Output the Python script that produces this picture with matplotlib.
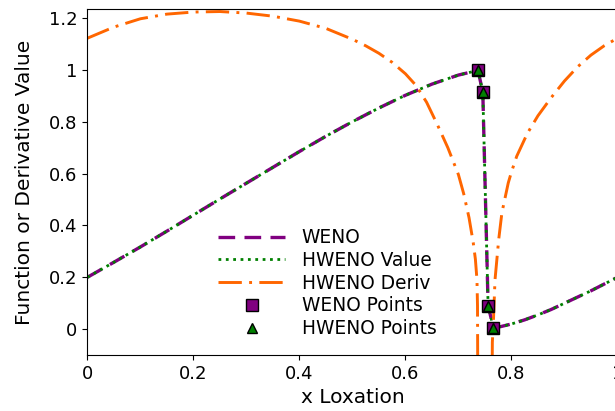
import numpy as np
import matplotlib
matplotlib.use("Agg")
import matplotlib.pyplot as plt
from matplotlib.ticker import FuncFormatter

# function values (WENO / HWENO reconstructions overlap)
x_func = [0.0, 0.05, 0.1, 0.15, 0.2, 0.25, 0.3, 0.35, 0.4, 0.45, 0.5, 0.55, 0.6, 0.65,
          0.7, 0.737, 0.746, 0.756, 0.766, 0.78, 0.8, 0.825, 0.85, 0.875, 0.9, 0.925,
          0.95, 0.975, 1.0]
weno_y = [0.200, 0.258, 0.317, 0.378, 0.440, 0.502, 0.563, 0.624, 0.685, 0.744, 0.800,
          0.853, 0.902, 0.945, 0.980, 0.998, 0.913, 0.090, 0.006, 0.010, 0.020, 0.036,
          0.055, 0.076, 0.100, 0.124, 0.148, 0.174, 0.200]
hweno_y = [0.200, 0.258, 0.317, 0.378, 0.440, 0.502, 0.563, 0.624, 0.685, 0.744, 0.800,
           0.853, 0.902, 0.945, 0.980, 0.998, 0.913, 0.090, 0.006, 0.010, 0.020, 0.036,
           0.055, 0.076, 0.100, 0.124, 0.148, 0.174, 0.200]

# derivative
x_deriv = [0.0, 0.05, 0.1, 0.15, 0.2, 0.25, 0.3, 0.35, 0.4, 0.45, 0.5, 0.525, 0.55,
           0.575, 0.6, 0.62, 0.64, 0.66, 0.68, 0.7, 0.71, 0.72, 0.728, 0.732, 0.735,
           0.736, 0.7365, 0.7635, 0.764, 0.766, 0.769, 0.776, 0.782, 0.794, 0.8, 0.81,
           0.83, 0.85, 0.875, 0.9, 0.925, 0.95, 0.975, 1.0]
deriv_y = [1.122, 1.165, 1.197, 1.215, 1.223, 1.225, 1.219, 1.207, 1.188, 1.160, 1.118,
           1.093, 1.064, 1.029, 0.985, 0.940, 0.875, 0.790, 0.700, 0.596, 0.522, 0.430,
           0.333, 0.270, 0.190, 0.090, -0.200, -0.200, -0.050, 0.030, 0.190, 0.346,
           0.449, 0.564, 0.606, 0.667, 0.755, 0.823, 0.893, 0.957, 1.012, 1.057, 1.093,
           1.122]

# sample points near the jump
pts_x = [0.737, 0.746, 0.756, 0.766]
weno_pts = [0.998, 0.913, 0.090, 0.006]
hweno_pts = [0.998, 0.913, 0.090, 0.006]

fig = plt.figure(figsize=(6.15, 4.11), dpi=100)
ax = fig.add_axes([0.142, 0.136, 0.862, 0.841])

ax.plot(x_func, weno_y, color='purple', linestyle=(0, (5, 2.8)), lw=2.4, label='WENO')
ax.plot(x_func, hweno_y, color='green', linestyle=':', lw=2, label='HWENO Value')
ax.plot(x_deriv, deriv_y, color='#ff6600', linestyle=(0, (8, 2.5, 1, 2.5)), lw=2.1,
        label='HWENO Deriv')
ax.plot(pts_x, weno_pts, 's', color='purple', markeredgecolor='black', markersize=8,
        linestyle='none', label='WENO Points')
ax.plot(pts_x, hweno_pts, '^', color='green', markeredgecolor='black', markersize=7,
        linestyle='none', label='HWENO Points')

ax.set_xlim(0, 1)
ax.set_ylim(-0.1, 1.233)
ax.set_xticks([0, 0.2, 0.4, 0.6, 0.8, 1.0])
ax.set_yticks([0, 0.2, 0.4, 0.6, 0.8, 1.0, 1.2])
fmt = FuncFormatter(lambda v, p: '%g' % round(v, 2))
ax.xaxis.set_major_formatter(fmt)
ax.yaxis.set_major_formatter(fmt)
ax.tick_params(labelsize=13)
ax.set_xlabel('x Loxation', fontsize=14.5)
ax.set_ylabel('Function or Derivative Value', fontsize=14.5, labelpad=11)

ax.legend(loc='upper left', bbox_to_anchor=(0.3425, 0.463), bbox_transform=fig.transFigure,
          borderaxespad=0, frameon=False, fontsize=13.4, handlelength=3.6,
          labelspacing=0.2, handletextpad=0.9)

fig.savefig('out.png', dpi=100)
